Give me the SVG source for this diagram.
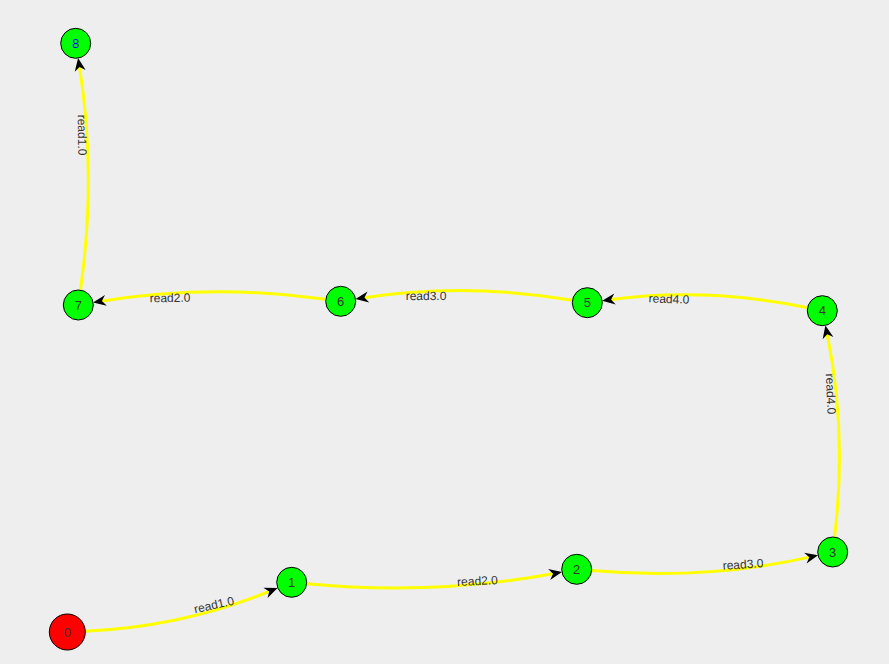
<svg xmlns="http://www.w3.org/2000/svg" width="889" height="664" viewBox="0 0 889 664">
<style>
.edge{fill:none;stroke:#ffff00;stroke-width:3}
.node{fill:#00ff00;stroke:#000;stroke-width:1}
.start{fill:#ff0000;stroke:#000;stroke-width:1}
.nl{font-family:"Liberation Sans",Arial,sans-serif;font-size:13px;fill:#333;text-anchor:middle}
.el{font-family:"Liberation Sans",Arial,sans-serif;font-size:12px;fill:#333;text-anchor:middle}
</style>
<defs>
<marker id="arr" markerUnits="userSpaceOnUse" markerWidth="30" markerHeight="30" viewBox="-20 -15 30 30" refX="-5" refY="0" orient="auto" overflow="visible">
<path d="M0,0 L-13,-5.5 L-9,0 L-13,5.5 Z" fill="#000"/>
</marker>
</defs>
<rect width="889" height="664" fill="#eeeeee"/>
<g id="connectors">
<path class="edge" marker-end="url(#arr)" d="M85.3,631.2 Q183.8,626.7 272.9,589.9"/>
<path class="edge" marker-end="url(#arr)" d="M306.6,583.7 Q435.1,595.8 557,573"/>
<path class="edge" marker-end="url(#arr)" d="M591.6,570.6 Q706,580.6 813.2,556.4"/>
<path class="edge" marker-end="url(#arr)" d="M834.5,537.1 Q847.5,430.5 826.4,330.3"/>
<path class="edge" marker-end="url(#arr)" d="M807.6,307.7 Q705.5,286.7 607.1,300"/>
<path class="edge" marker-end="url(#arr)" d="M572.5,300.2 Q464.1,282 360.5,298.2"/>
<path class="edge" marker-end="url(#arr)" d="M325.8,299.2 Q209.2,283.15 98,301.7"/>
<path class="edge" marker-end="url(#arr)" d="M80.4,290.2 Q97,173.95 78.9,63"/>
<g transform="translate(214,605) rotate(-12.5)"><text class="el" y="4">read1.0</text></g>
<g transform="translate(477.5,581) rotate(-2.6)"><text class="el" y="4">read2.0</text></g>
<g transform="translate(743,564.5) rotate(-3.9)"><text class="el" y="4">read3.0</text></g>
<g transform="translate(830.7,394) rotate(87.5)"><text class="el" y="4">read4.0</text></g>
<g transform="translate(669,299) rotate(2)"><text class="el" y="4">read4.0</text></g>
<g transform="translate(426,296) rotate(0.3)"><text class="el" y="4">read3.0</text></g>
<g transform="translate(170,298) rotate(-0.8)"><text class="el" y="4">read2.0</text></g>
<g transform="translate(82,135) rotate(89.4)"><text class="el" y="4">read1.0</text></g>
</g>
<g id="node0"><circle class="start" cx="67.3" cy="632" r="18"/><text class="nl" x="67.3" y="636.5">0</text></g>
<g id="node1"><circle class="node" cx="291.7" cy="582.3" r="15"/><text class="nl" x="291.7" y="586.8">1</text></g>
<g id="node2"><circle class="node" cx="576.7" cy="569.3" r="15"/><text class="nl" x="576.7" y="573.8">2</text></g>
<g id="node3"><circle class="node" cx="832.7" cy="552" r="15"/><text class="nl" x="832.7" y="556.5">3</text></g>
<g id="node4"><circle class="node" cx="822.3" cy="310.7" r="15"/><text class="nl" x="822.3" y="315.2">4</text></g>
<g id="node5"><circle class="node" cx="587.3" cy="302.7" r="15"/><text class="nl" x="587.3" y="307.2">5</text></g>
<g id="node6"><circle class="node" cx="340.7" cy="301.3" r="15"/><text class="nl" x="340.7" y="305.8">6</text></g>
<g id="node7"><circle class="node" cx="78.3" cy="305" r="15"/><text class="nl" x="78.3" y="309.5">7</text></g>
<g id="node8"><circle class="node" cx="75.7" cy="43.3" r="15"/><text class="nl" x="75.7" y="47.8" style="fill:#0000ff">8</text></g>
</svg>
